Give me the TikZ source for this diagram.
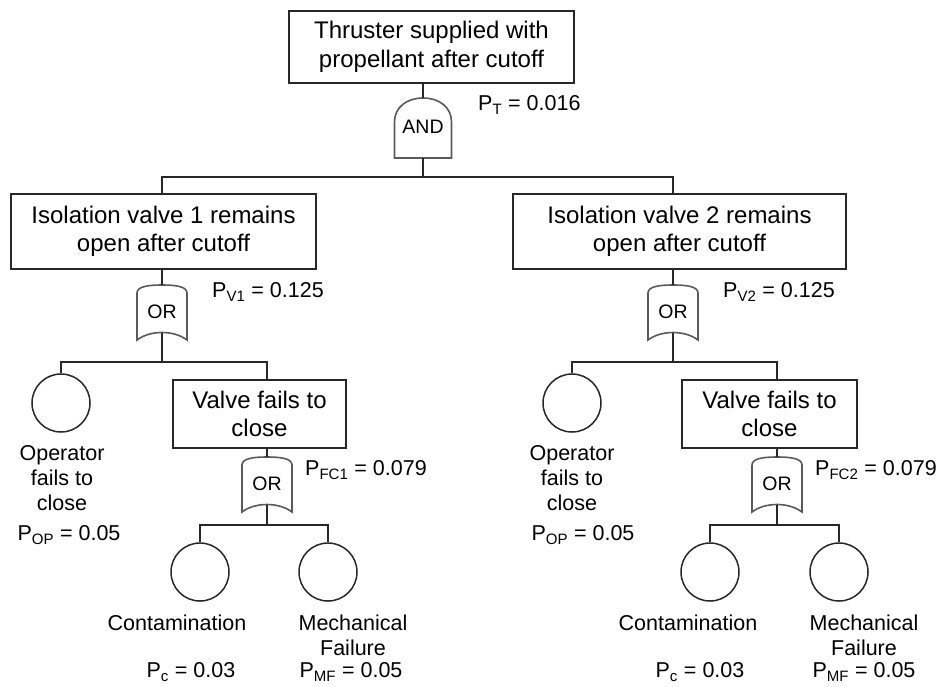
\documentclass[tikz,border=0pt]{standalone}
\usepackage{fontspec}
\setmainfont{Liberation Sans}
\usepackage{tikz}
\definecolor{GLine}{RGB}{40,40,40}
\definecolor{GGate}{RGB}{90,90,90}
\newcommand{\Pval}[2]{P\textsubscript{#1} = #2}

\tikzset{
  evbox/.style={
    draw=GLine,
    line width=1.5pt,
    fill=white,
    align=center,
    inner sep=0pt,
    font=\fontsize{24}{28.5}\selectfont
  },
  basic/.style={circle, draw=GLine, line width=1.5pt, minimum size=58pt, inner sep=0pt},
  leaflbl/.style={align=center, inner sep=0pt, font=\fontsize{21.5}{25}\selectfont},
  problbl/.style={inner sep=0pt, anchor=west, font=\fontsize{21.5}{25}\selectfont},
  gateline/.style={draw=GGate, line width=1.6pt, fill=white},
  gatetxt/.style={inner sep=0pt, font=\fontsize{19.5}{22}\selectfont},
  link/.style={draw=GLine, line width=1.5pt},
  pics/andgate/.style={code={
    \draw[gateline] (-28.5,30) -- (-28.5,-6)
      .. controls (-28.5,-21) and (-16,-30) .. (0,-30)
      .. controls (16,-30) and (28.5,-21) .. (28.5,-6) -- (28.5,30) -- cycle;
    \node[gatetxt] at (0,-1) {AND};
    \coordinate (-in) at (0,-30);
    \coordinate (-out) at (0,30);
  }},
  pics/orgate/.style={code={
    \draw[gateline] (-25,28) -- (-25,-19)
      .. controls (-25,-26) and (-12,-27) .. (0,-27)
      .. controls (12,-27) and (25,-26) .. (25,-19) -- (25,28)
      .. controls (12,18) and (-12,18) .. (-25,28) -- cycle;
    \node[gatetxt] at (0,0) {OR};
    \coordinate (-in) at (0,-27);
    \coordinate (-out) at (0,20.5);
  }}
}

\begin{document}
\begin{tikzpicture}[x=1pt, y=-1pt]
  \useasboundingbox (0,0) rectangle (939,686);

  \node[evbox, minimum width=285pt, minimum height=72pt] (top) at (431.5,47)
    {Thruster supplied with\\propellant after cutoff};
  \node[evbox, minimum width=305pt, minimum height=75pt] (iv1) at (163.5,231.5)
    {Isolation valve 1 remains\\open after cutoff};
  \node[evbox, minimum width=333pt, minimum height=75pt] (iv2) at (679.5,231.5)
    {Isolation valve 2 remains\\open after cutoff};
  \node[evbox, minimum width=173pt, minimum height=68pt] (vf1) at (259.5,414)
    {Valve fails to\\close};
  \node[evbox, minimum width=175pt, minimum height=68pt] (vf2) at (769.5,414)
    {Valve fails to\\close};

  \pic (g0) at (423,128) {andgate};
  \pic (g1) at (162,312) {orgate};
  \pic (g2) at (673,312) {orgate};
  \pic (g3) at (267,484) {orgate};
  \pic (g4) at (777,484) {orgate};

  \node[basic] (op1) at (61,403) {};
  \node[basic] (op2) at (572,403) {};
  \node[basic] (ct1) at (200,572) {};
  \node[basic] (mf1) at (328,572) {};
  \node[basic] (ct2) at (710,572) {};
  \node[basic] (mf2) at (839,572) {};

  \coordinate (j0) at (423,177);
  \coordinate (j1) at (162,362);
  \coordinate (j2) at (673,362);
  \coordinate (j3) at (267,525);
  \coordinate (j4) at (777,525);

  \draw[link] (top.south -| g0-in) -- (g0-in);
  \draw[link] (g0-out) -- (j0);
  \draw[link] (iv1.north -| g1-in) |- (j0) -| (iv2.north -| g2-in);

  \draw[link] (iv1.south -| g1-in) -- (g1-in);
  \draw[link] (g1-out) -- (j1);
  \draw[link] (op1.north) |- (j1) -| (vf1.north -| g3-in);
  \draw[link] (vf1.south -| g3-in) -- (g3-in);
  \draw[link] (g3-out) -- (j3);
  \draw[link] (ct1.north) |- (j3) -| (mf1.north);

  \draw[link] (iv2.south -| g2-in) -- (g2-in);
  \draw[link] (g2-out) -- (j2);
  \draw[link] (op2.north) |- (j2) -| (vf2.north -| g4-in);
  \draw[link] (vf2.south -| g4-in) -- (g4-in);
  \draw[link] (g4-out) -- (j4);
  \draw[link] (ct2.north) |- (j4) -| (mf2.north);

  \node[problbl] (pT) at (478,105) {\Pval{T}{0.016}};
  \node[problbl] (pV1) at (212,292) {\Pval{V1}{0.125}};
  \node[problbl] (pV2) at (723,292) {\Pval{V2}{0.125}};
  \node[problbl] (pFC1) at (305,470) {\Pval{FC1}{0.079}};
  \node[problbl] (pFC2) at (815,470) {\Pval{FC2}{0.079}};

  \node[leaflbl] (op1lbl) at (62,478) {Operator\\fails to\\close};
  \node[leaflbl] (op1p) at (69,535) {\Pval{OP}{0.05}};
  \node[leaflbl] (op2lbl) at (572,478) {Operator\\fails to\\close};
  \node[leaflbl] (op2p) at (583,535) {\Pval{OP}{0.05}};
  \node[leaflbl] (ct1lbl) at (177,623) {Contamination};
  \node[leaflbl] (ct1p) at (191,672) {\Pval{c}{0.03}};
  \node[leaflbl] (mf1lbl) at (353,635.5) {Mechanical\\Failure};
  \node[leaflbl] (mf1p) at (351,672) {\Pval{MF}{0.05}};
  \node[leaflbl] (ct2lbl) at (688,623) {Contamination};
  \node[leaflbl] (ct2p) at (700,672) {\Pval{c}{0.03}};
  \node[leaflbl] (mf2lbl) at (864,635.5) {Mechanical\\Failure};
  \node[leaflbl] (mf2p) at (864,672) {\Pval{MF}{0.05}};
\end{tikzpicture}
\end{document}
